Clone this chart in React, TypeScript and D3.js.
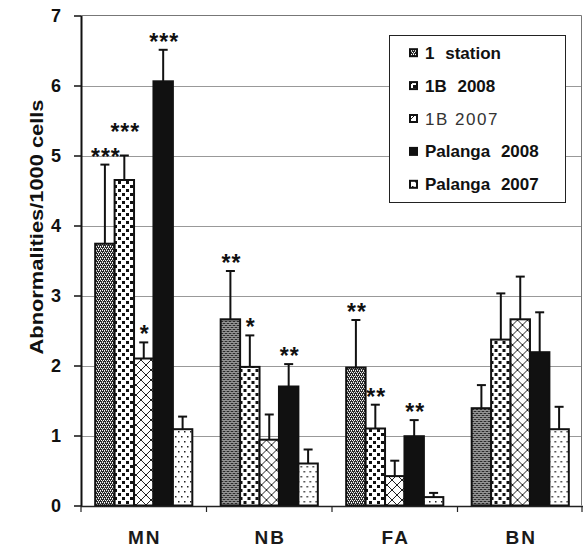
import React, { useRef, useEffect } from 'react';
import * as d3 from 'd3';

const categories = ['MN', 'NB', 'FA', 'BN'];
const seriesNames = ['1 station', '1B 2008', '1B 2007', 'Palanga 2008', 'Palanga 2007'];

// means and upper error (SE) per category
const station1 = [3.74, 2.66, 1.97, 1.39];
const station1Err = [1.13, 0.69, 0.68, 0.33];
const b2008 = [4.65, 1.98, 1.1, 2.37];
const b2008Err = [0.35, 0.45, 0.34, 0.66];
const b2007 = [2.1, 0.94, 0.42, 2.66];
const b2007Err = [0.23, 0.36, 0.22, 0.61];
const palanga2008 = [6.06, 1.7, 0.99, 2.19];
const palanga2008Err = [0.45, 0.32, 0.23, 0.57];
const palanga2007 = [1.09, 0.6, 0.12, 1.09];
const palanga2007Err = [0.18, 0.2, 0.06, 0.32];

// significance marks
const station1Sig = ['***', '**', '**', ''];
const b2008Sig = ['***', '*', '**', ''];
const b2007Sig = ['*', '', '', ''];
const palanga2008Sig = ['***', '**', '**', ''];
const palanga2007Sig = ['', '', '', ''];

const yTicks = [0, 1, 2, 3, 4, 5, 6, 7];

const WIDTH = 583;
const HEIGHT = 549;
const FONT = "'Liberation Sans', Arial, Helvetica, sans-serif";

const patternIds = ['p-station', 'p-b2008', 'p-b2007', 'p-p2008', 'p-p2007'];

const App: React.FC = () => {
  const svgRef = useRef<SVGSVGElement>(null);

  useEffect(() => {
    if (!svgRef.current) return;
    const svg = d3.select(svgRef.current);
    svg.selectAll('*').remove();

    const series = seriesNames.map((name, i) => ({
      name,
      means: [station1, b2008, b2007, palanga2008, palanga2007][i],
      errs: [station1Err, b2008Err, b2007Err, palanga2008Err, palanga2007Err][i],
      sig: [station1Sig, b2008Sig, b2007Sig, palanga2008Sig, palanga2007Sig][i],
      pattern: patternIds[i],
    }));

    const left = 81;
    const right = 583;
    const top = 15.5;
    const bottom = 505.5;

    // patterns
    const defs = svg.append('defs');
    const pStation = defs.append('pattern').attr('id', 'p-station')
      .attr('patternUnits', 'userSpaceOnUse').attr('width', 4).attr('height', 4);
    pStation.append('rect').attr('width', 4).attr('height', 4).attr('fill', '#2a2a2a');
    [[0, 0], [2, 0], [1, 2], [3, 2]].forEach(([px, py]) => {
      pStation.append('rect').attr('x', px).attr('y', py).attr('width', 1).attr('height', 1).attr('fill', '#fff');
    });
    [[1, 1], [3, 3]].forEach(([px, py]) => {
      pStation.append('rect').attr('x', px).attr('y', py).attr('width', 1).attr('height', 1).attr('fill', '#bbb');
    });

    const pB8 = defs.append('pattern').attr('id', 'p-b2008')
      .attr('patternUnits', 'userSpaceOnUse').attr('width', 8).attr('height', 8);
    pB8.append('rect').attr('width', 8).attr('height', 8).attr('fill', '#fff');
    pB8.append('rect').attr('x', 1).attr('y', 1).attr('width', 3).attr('height', 3).attr('fill', '#111');
    pB8.append('rect').attr('x', 5).attr('y', 5).attr('width', 3).attr('height', 3).attr('fill', '#111');

    const pB7 = defs.append('pattern').attr('id', 'p-b2007')
      .attr('patternUnits', 'userSpaceOnUse').attr('width', 10).attr('height', 10);
    pB7.append('rect').attr('width', 10).attr('height', 10).attr('fill', '#fff');
    pB7.append('path').attr('d', 'M0,0L10,10M10,0L0,10').attr('stroke', '#222').attr('stroke-width', 1);

    const pP8 = defs.append('pattern').attr('id', 'p-p2008')
      .attr('patternUnits', 'userSpaceOnUse').attr('width', 4).attr('height', 4);
    pP8.append('rect').attr('width', 4).attr('height', 4).attr('fill', '#111');

    const pP7 = defs.append('pattern').attr('id', 'p-p2007')
      .attr('patternUnits', 'userSpaceOnUse').attr('width', 6).attr('height', 10);
    pP7.append('rect').attr('width', 6).attr('height', 10).attr('fill', '#fff');
    pP7.append('rect').attr('x', 1).attr('y', 1).attr('width', 1.5).attr('height', 1.5).attr('fill', '#222');
    pP7.append('rect').attr('x', 4).attr('y', 6).attr('width', 1.5).attr('height', 1.5).attr('fill', '#222');

    // scales
    const x0 = d3.scaleBand<string>().domain(categories).range([left, right]).paddingInner(0).paddingOuter(0);
    const x1 = d3.scaleBand<string>().domain(seriesNames).range([0, x0.bandwidth()]).paddingInner(0).paddingOuter(0.73);
    const y = d3.scaleLinear().domain([0, 7]).range([bottom, top]);

    // gridlines + frame
    svg.append('g').selectAll('line')
      .data(yTicks.filter(t => t > 0 && t < 7))
      .enter().append('line')
      .attr('x1', left).attr('x2', right - 1)
      .attr('y1', d => Math.round(y(d)) + 0.5).attr('y2', d => Math.round(y(d)) + 0.5)
      .attr('stroke', '#999').attr('stroke-width', 1);
    svg.append('path')
      .attr('d', `M${left},${y(7)}H${right - 1.5}V${bottom}`)
      .attr('fill', 'none').attr('stroke', '#777').attr('stroke-width', 1);

    // y axis
    const yAxis = d3.axisLeft(y).tickValues(yTicks).tickSize(7).tickSizeOuter(0)
      .tickPadding(13).tickFormat(d3.format('d'));
    const yg = svg.append('g').attr('transform', `translate(${left},0)`).call(yAxis);
    yg.select('.domain').attr('stroke', '#111').attr('stroke-width', 2);
    yg.selectAll('.tick line').attr('stroke', '#111').attr('stroke-width', 1.5);
    yg.selectAll('.tick text')
      .style('font-family', FONT).style('font-size', '18px').style('font-weight', 'bold').attr('fill', '#111');

    // bars
    const groups = svg.append('g').selectAll('g')
      .data(categories)
      .enter().append('g')
      .attr('transform', d => `translate(${x0(d)},0)`);

    groups.each(function (cat, ci) {
      const g = d3.select(this);
      const placed: { x: number; y: number; w: number }[] = [];
      series.forEach(s => {
        const bx = x1(s.name) as number;
        const bw = x1.bandwidth();
        const cx = bx + bw / 2;
        const m = s.means[ci];
        const e = s.errs[ci];
        // error bar (upper only)
        g.append('line').attr('x1', cx).attr('x2', cx)
          .attr('y1', y(m)).attr('y2', y(m + e))
          .attr('stroke', '#111').attr('stroke-width', 2);
        g.append('line').attr('x1', cx - 4.5).attr('x2', cx + 4.5)
          .attr('y1', y(m + e)).attr('y2', y(m + e))
          .attr('stroke', '#111').attr('stroke-width', 2);
        g.append('rect')
          .attr('x', bx).attr('y', y(m))
          .attr('width', bw).attr('height', y(0) - y(m))
          .attr('fill', `url(#${s.pattern})`)
          .attr('stroke', '#111').attr('stroke-width', 2);

        const label = s.sig[ci];
        if (label) {
          const w = label.length * 10;
          let cy = y(m + e) - 13;
          placed.forEach(p => {
            const overlapX = Math.abs(p.x - cx) < (p.w + w) / 2;
            if (overlapX && Math.abs(p.y - cy) < 22) cy = p.y - 25;
          });
          placed.push({ x: cx, y: cy, w });
          g.append('text')
            .attr('x', cx + 1).attr('y', cy + 13)
            .attr('text-anchor', 'middle')
            .style('font-family', FONT).style('font-size', '23px').style('font-weight', 'bold')
            .style('letter-spacing', '1px')
            .attr('fill', '#111')
            .text(label);
        }
      });
    });

    // x axis
    svg.append('line')
      .attr('x1', left).attr('x2', right).attr('y1', 506.5).attr('y2', 506.5)
      .attr('stroke', '#222').attr('stroke-width', 1.5);
    const boundaries = categories.map(c => x0(c) as number).concat([right - 1]);
    svg.append('g').selectAll('line')
      .data(boundaries)
      .enter().append('line')
      .attr('x1', d => d).attr('x2', d => d)
      .attr('y1', 506).attr('y2', 512)
      .attr('stroke', '#222').attr('stroke-width', 1.2);
    svg.append('g').selectAll('text')
      .data(categories)
      .enter().append('text')
      .attr('x', d => (x0(d) as number) + x0.bandwidth() / 2 + 1)
      .attr('y', 544)
      .attr('text-anchor', 'middle')
      .style('font-family', FONT).style('font-size', '19px').style('font-weight', 'bold')
      .style('letter-spacing', '2px')
      .attr('fill', '#1a1a1a')
      .text(d => d);

    // y title
    svg.append('text')
      .attr('transform', `translate(43,227) rotate(-90)`)
      .attr('text-anchor', 'middle')
      .attr('textLength', 255).attr('lengthAdjust', 'spacingAndGlyphs')
      .style('font-family', FONT).style('font-size', '18px').style('font-weight', 'bold')
      .attr('fill', '#111')
      .text('Abnormalities/1000 cells');

    // legend
    const lg = svg.append('g');
    lg.append('rect')
      .attr('x', 389.5).attr('y', 35.5).attr('width', 176).attr('height', 167)
      .attr('fill', '#fff').attr('stroke', '#222').attr('stroke-width', 1);
    series.forEach((s, i) => {
      const cy = 52.7 + i * 32.9;
      lg.append('rect')
        .attr('x', 410).attr('y', cy - 3.5).attr('width', 7).attr('height', 7)
        .attr('fill', `url(#${s.pattern})`)
        .attr('stroke', '#111').attr('stroke-width', 2);
      const regular = s.name === '1B 2007';
      lg.append('text')
        .attr('x', 425).attr('y', cy + 6)
        .style('font-family', FONT).style('font-size', '17px')
        .style('font-weight', regular ? 'normal' : 'bold')
        .style('letter-spacing', regular ? '1.5px' : '0px')
        .style('word-spacing', regular ? '0px' : '6px')
        .attr('fill', regular ? '#333' : '#111')
        .text(s.name);
    });
  }, []);

  return (
    <svg
      ref={svgRef}
      width={WIDTH}
      height={HEIGHT}
      style={{ position: 'absolute', left: 0, top: 0, background: '#fff' }}
    />
  );
};

export default App;
